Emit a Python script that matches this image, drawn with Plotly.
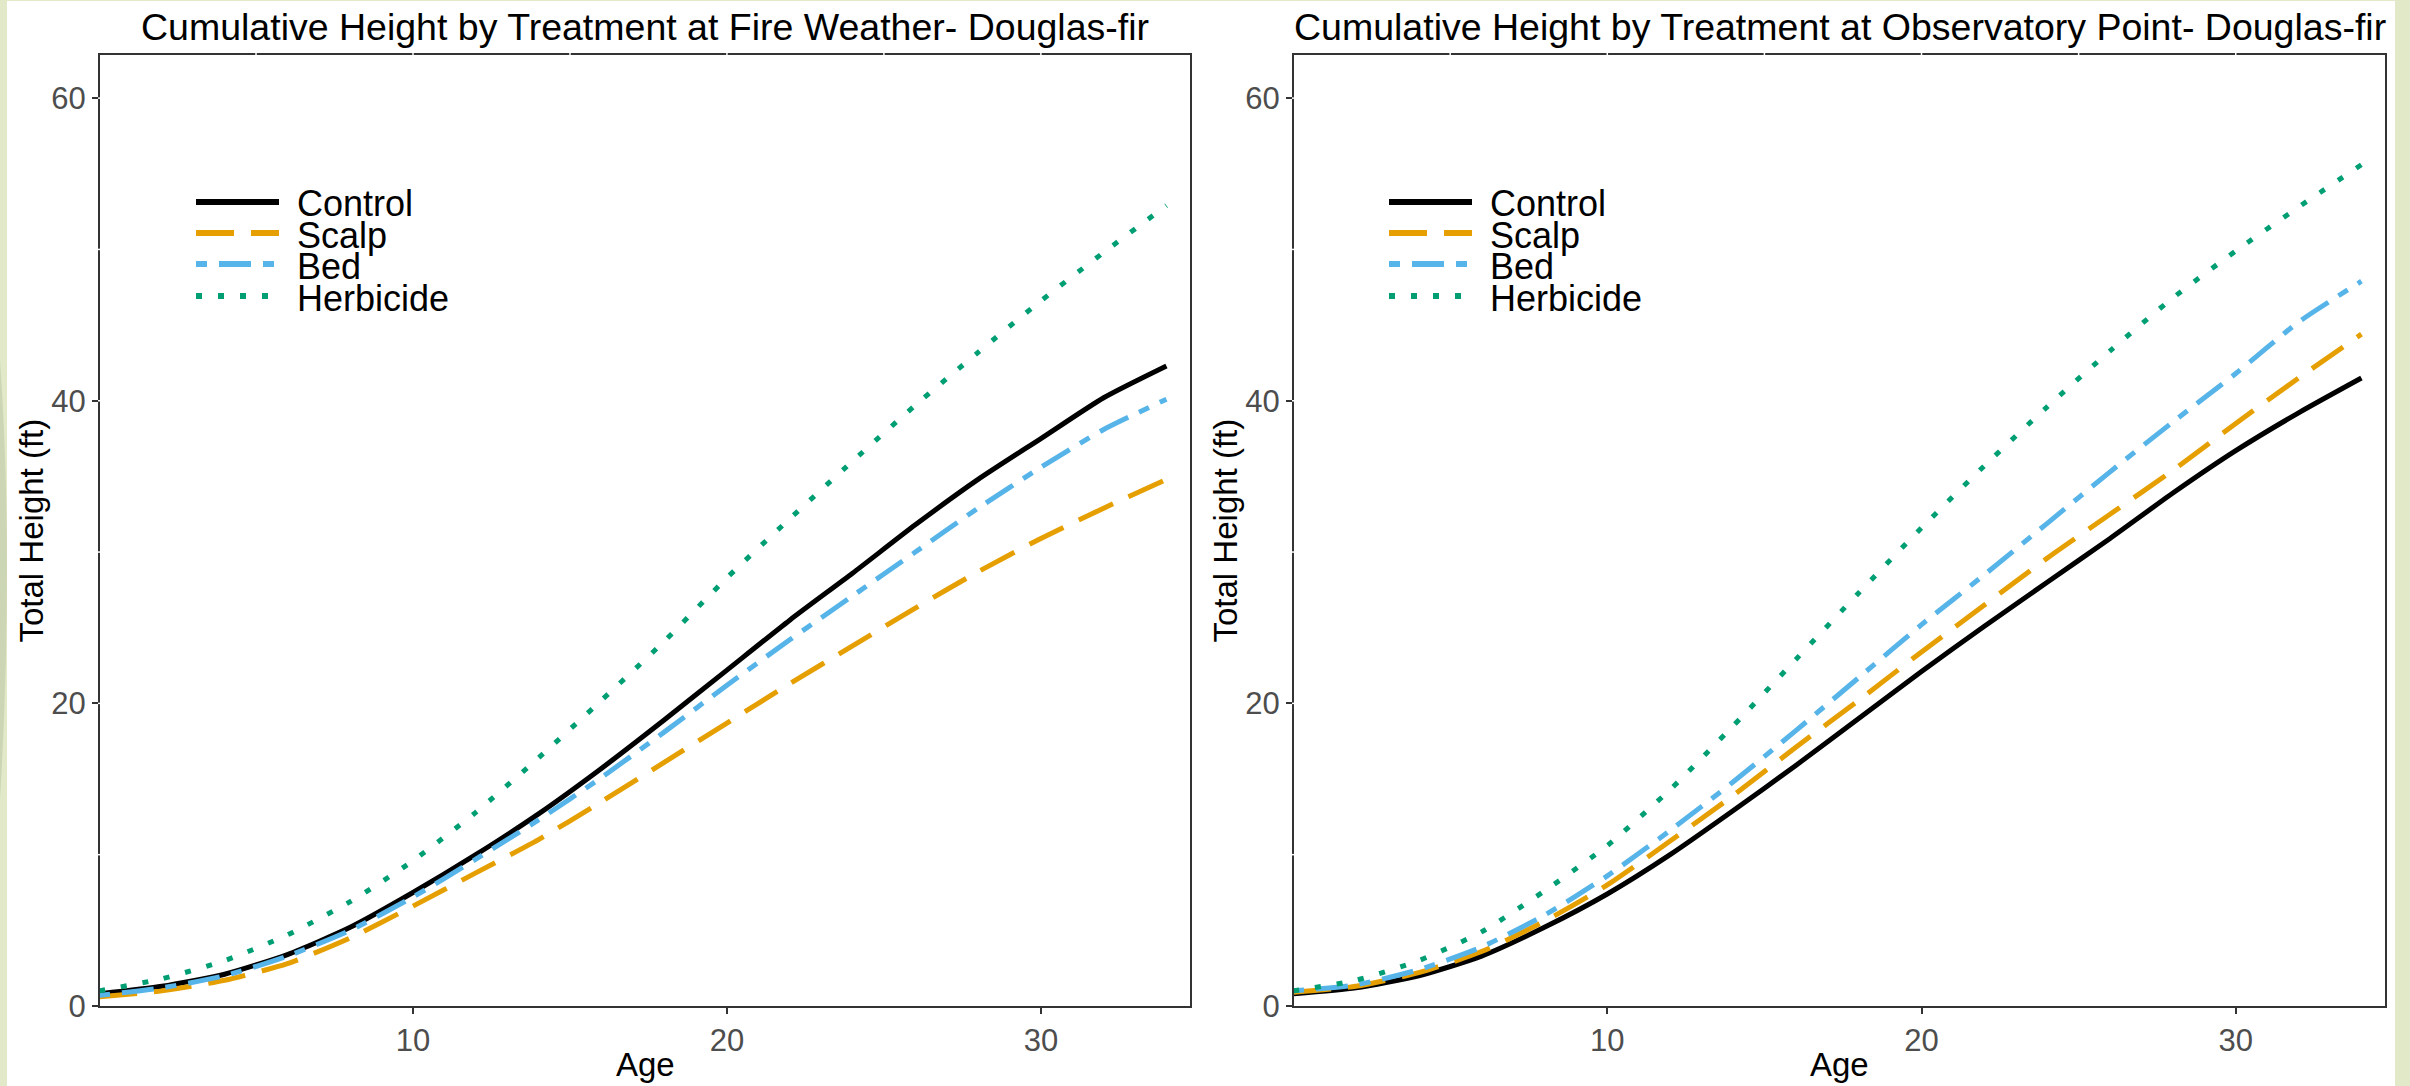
import plotly.graph_objects as go

# ---------------- data ----------------
ages = [0, 2, 4, 6, 8, 10, 12, 14, 16, 18, 20, 22, 24, 26, 28, 30, 32, 34]

treatments = ["Control", "Scalp", "Bed", "Herbicide"]

# Fire Weather - Douglas-fir
fw_control   = [0.8, 1.3, 2.1, 3.4, 5.2, 7.5, 10.0, 12.7, 15.7, 18.9, 22.2, 25.5, 28.6, 31.8, 34.8, 37.5, 40.2, 42.3]
fw_scalp     = [0.6, 1.0, 1.7, 2.8, 4.5, 6.6, 8.8, 11.0, 13.5, 16.1, 18.7, 21.3, 23.8, 26.3, 28.7, 30.9, 32.9, 34.8]
fw_bed       = [0.7, 1.2, 2.0, 3.3, 5.0, 7.2, 9.7, 12.3, 15.1, 18.1, 21.2, 24.2, 27.1, 30.0, 32.9, 35.6, 38.1, 40.1]
fw_herbicide = [1.0, 1.8, 3.0, 4.7, 6.9, 9.6, 12.8, 16.4, 20.2, 24.1, 28.3, 32.2, 36.0, 39.7, 43.2, 46.6, 49.8, 52.9]

# Observatory Point - Douglas-fir
op_control   = [0.8, 1.2, 2.0, 3.3, 5.2, 7.4, 10.0, 12.9, 15.9, 19.0, 22.1, 25.1, 28.0, 30.9, 33.9, 36.7, 39.2, 41.5]
op_scalp     = [0.9, 1.3, 2.2, 3.6, 5.6, 8.0, 10.9, 13.9, 17.1, 20.2, 23.4, 26.5, 29.6, 32.5, 35.4, 38.5, 41.5, 44.4]
op_bed       = [1.0, 1.4, 2.4, 3.9, 6.0, 8.6, 11.6, 14.8, 18.2, 21.7, 25.2, 28.5, 31.9, 35.3, 38.6, 41.8, 45.2, 47.9]
op_herbicide = [1.0, 1.7, 3.0, 4.9, 7.6, 10.6, 14.3, 18.5, 22.9, 27.3, 31.6, 35.7, 39.6, 43.3, 46.8, 49.9, 52.8, 55.6]

titles = ["Cumulative Height by Treatment at Fire Weather- Douglas-fir",
          "Cumulative Height by Treatment at Observatory Point- Douglas-fir"]

x_ticks = [10, 20, 30]
y_ticks = [0, 20, 40, 60]
x_grid = [5, 10, 15, 20, 25, 30]
y_grid = [10, 20, 30, 40, 50, 60]

# ---------------- styles ----------------
colors = {"Control": "#000000", "Scalp": "#E69F00", "Bed": "#56B4E9", "Herbicide": "#009E73"}
dashes = {"Control": "solid", "Scalp": "38px,17px", "Bed": "11px,12px,32px,12px", "Herbicide": "6px,16px"}
FONT = "Liberation Sans, Arial"

W, H = 2410, 1086
def px(x): return x / W
def py(y): return 1 - y / H

panels = [
    dict(xa="x", ya="y", x0=100, x1=1190, data=[fw_control, fw_scalp, fw_bed, fw_herbicide],
         leg_x0=196, leg_x1=279, leg_tx=295, ytitle_x=31),
    dict(xa="x2", ya="y2", x0=1294, x1=2385, data=[op_control, op_scalp, op_bed, op_herbicide],
         leg_x0=1389, leg_x1=1472, leg_tx=1488, ytitle_x=1225),
]
top, bottom = 55, 1006

fig = go.Figure()
shapes = []
annotations = []

# white page area over light-green background
shapes.append(dict(type="rect", xref="paper", yref="paper", x0=px(7), x1=px(2395), y0=0, y1=py(1),
                   fillcolor="white", line=dict(width=0), layer="below"))
# faint decorative arc in the left green strip
shapes.append(dict(type="path", xref="paper", yref="paper",
                   path=f"M 0,{py(360)} Q {px(14)},{py(560)} 0,{py(800)} Z",
                   fillcolor="#CDD6B4", line=dict(width=0), layer="below"))

legend_rows = [202, 233, 264, 296]

for i, p in enumerate(panels):
    for name, vals in zip(treatments, p["data"]):
        fig.add_trace(go.Scatter(x=ages, y=vals, mode="lines", name=name, showlegend=False,
                                 xaxis=p["xa"], yaxis=p["ya"],
                                 line=dict(color=colors[name], width=5, dash=dashes[name], shape="spline",
                                           smoothing=0.6)))
    # white grid lines peeking through the top / left panel border
    for g in x_grid:
        shapes.append(dict(type="line", xref=p["xa"], yref="paper", x0=g, x1=g, y0=py(top - 2), y1=py(top + 2),
                           line=dict(color="white", width=1.5), layer="above"))
    for g in y_grid:
        shapes.append(dict(type="line", xref="paper", yref=p["ya"], x0=px(p["x0"] - 2), x1=px(p["x0"] + 2),
                           y0=g, y1=g, line=dict(color="white", width=1.5), layer="above"))
    # legend drawn manually
    for name, ry in zip(treatments, legend_rows):
        shapes.append(dict(type="line", xref="paper", yref="paper",
                           x0=px(p["leg_x0"]), x1=px(p["leg_x1"]), y0=py(ry), y1=py(ry),
                           line=dict(color=colors[name], width=6, dash=dashes[name])))
        annotations.append(dict(text=name, xref="paper", yref="paper", x=px(p["leg_tx"]), y=py(ry + 2),
                                xanchor="left", yanchor="middle", showarrow=False,
                                font=dict(size=36, color="black", family=FONT)))
    # title
    annotations.append(dict(text=titles[i], xref="paper", yref="paper",
                            x=px((p["x0"] + p["x1"]) / 2), y=py(27), xanchor="center", yanchor="middle",
                            showarrow=False, font=dict(size=37.5, color="black", family=FONT)))
    # axis titles
    annotations.append(dict(text="Age", xref="paper", yref="paper",
                            x=px((p["x0"] + p["x1"]) / 2), y=py(1064), xanchor="center", yanchor="middle",
                            showarrow=False, font=dict(size=33, color="black", family=FONT)))
    annotations.append(dict(text="Total Height (ft)", xref="paper", yref="paper",
                            x=px(p["ytitle_x"]), y=py((top + bottom) / 2), xanchor="center", yanchor="middle",
                            textangle=-90, showarrow=False,
                            font=dict(size=33, color="black", family=FONT)))

axis_common = dict(showgrid=False, zeroline=False, showline=True, mirror=True, linecolor="#333333",
                   linewidth=2, ticks="outside", ticklen=6, tickwidth=2, tickcolor="#333333",
                   automargin=False,
                   tickfont=dict(size=31, color="#4D4D4D", family=FONT))

fig.update_layout(
    width=W, height=H, margin=dict(l=0, r=0, t=0, b=0, pad=0, autoexpand=False),
    paper_bgcolor="#E1E9C9", plot_bgcolor="white",
    shapes=shapes, annotations=annotations,
    xaxis=dict(domain=[px(100), px(1190)], range=[0.03, 34.75], tickvals=x_ticks, anchor="y", **axis_common),
    yaxis=dict(domain=[py(bottom), py(top)], range=[0, 62.85], tickvals=y_ticks, anchor="x", **axis_common),
    xaxis2=dict(domain=[px(1294), px(2385)], range=[0.03, 34.75], tickvals=x_ticks, anchor="y2", **axis_common),
    yaxis2=dict(domain=[py(bottom), py(top)], range=[0, 62.85], tickvals=y_ticks, anchor="x2", **axis_common),
)

fig.write_html("out.html", config={"responsive": False})
